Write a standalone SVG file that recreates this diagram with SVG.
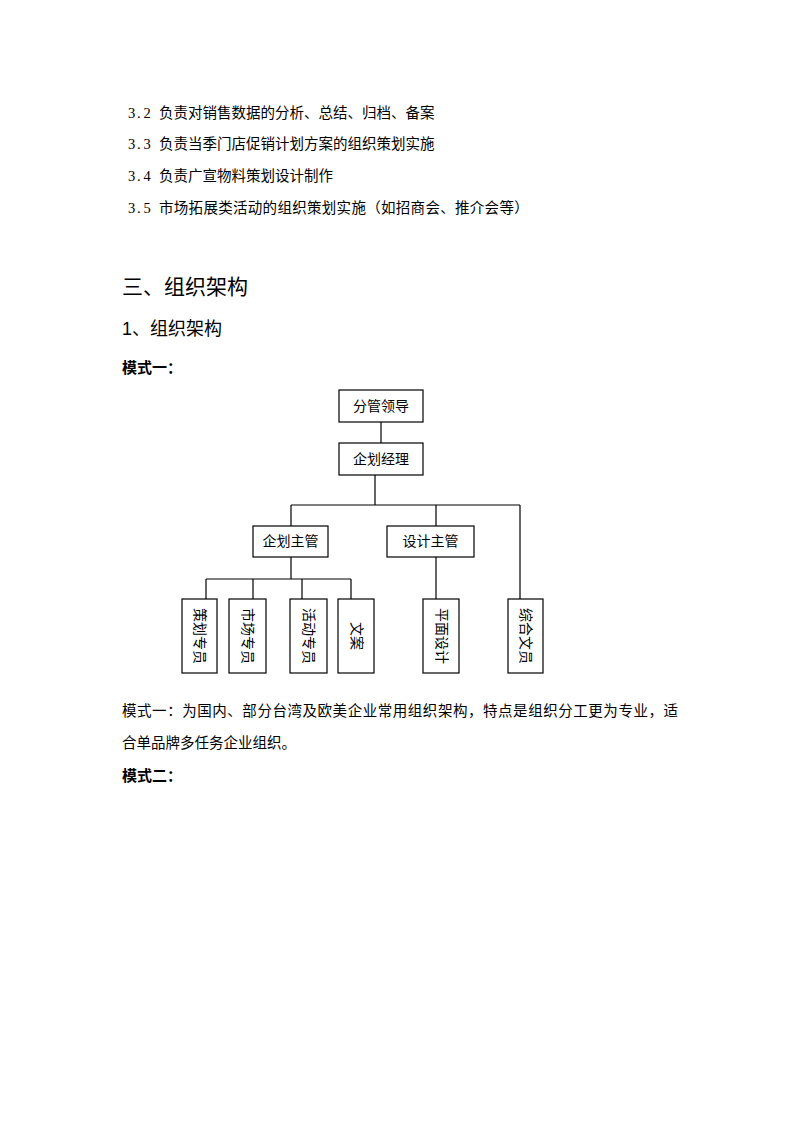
<svg xmlns="http://www.w3.org/2000/svg" width="800" height="1132" viewBox="0 0 800 1132">
<style>
.t{font-family:"Liberation Serif","Noto Sans CJK SC",serif;font-size:14.5px;fill:#000}
.h{font-family:"Liberation Sans","Noto Sans CJK SC",sans-serif;fill:#000}
.b{font-family:"Liberation Sans","Noto Sans CJK SC",sans-serif;font-size:15px;font-weight:bold;fill:#000}
.box{fill:#fff;stroke:#000;stroke-width:1.2}
.lbl{font-family:"Liberation Serif","Noto Sans CJK SC",serif;font-size:14px;fill:#000;text-anchor:middle;dominant-baseline:central}
.c{fill:none;stroke:#000;stroke-width:1.2}
</style>
<rect width="800" height="1132" fill="#fff"/>
<text class="t" y="118"><tspan x="128 137 143.5">3.2</tspan><tspan x="159">负责对销售数据的分析、总结、归档、备案</tspan></text>
<text class="t" y="149"><tspan x="128 137 143.5">3.3</tspan><tspan x="159">负责当季门店促销计划方案的组织策划实施</tspan></text>
<text class="t" y="181"><tspan x="128 137 143.5">3.4</tspan><tspan x="159">负责广宣物料策划设计制作</tspan></text>
<text class="t" y="213"><tspan x="128 137 143.5">3.5</tspan><tspan x="159" letter-spacing="0.3">市场拓展类活动的组织策划实施（如招商会、推介会等）</tspan></text>
<text class="h" x="122" y="294" font-size="21">三、组织架构</text>
<text class="h" x="122" y="335" font-size="18">1、组织架构</text>
<text class="b" x="122" y="373">模式一：</text>
<g id="connectors">
<path class="c" d="M381 422V443"/>
<path class="c" d="M375 475V505M291 505H520M291 505V526M436 505V526M520 505V599"/>
<path class="c" d="M291 557V579M206 579H351M206 579V599M253 579V599M302 579V599M351 579V599"/>
<path class="c" d="M436 557V599"/>
</g>
<g id="n1"><rect class="box" x="339" y="390" width="84" height="32"/><text class="lbl" x="381" y="406">分管领导</text></g>
<g id="n2"><rect class="box" x="339" y="443" width="84" height="32"/><text class="lbl" x="381" y="459">企划经理</text></g>
<g id="n3"><rect class="box" x="253" y="526" width="75" height="31"/><text class="lbl" x="290.5" y="541.5">企划主管</text></g>
<g id="n4"><rect class="box" x="387" y="526" width="87" height="31"/><text class="lbl" x="430.5" y="541.5">设计主管</text></g>
<g id="n5"><rect class="box" x="182" y="599" width="35" height="74"/><text class="lbl" transform="translate(199.5 636) rotate(90)">策划专员</text></g>
<g id="n6"><rect class="box" x="229" y="599" width="37" height="74"/><text class="lbl" transform="translate(247.5 636) rotate(90)">市场专员</text></g>
<g id="n7"><rect class="box" x="290" y="599" width="37" height="74"/><text class="lbl" transform="translate(308.5 636) rotate(90)">活动专员</text></g>
<g id="n8"><rect class="box" x="338" y="599" width="36" height="74"/><text class="lbl" transform="translate(356 636) rotate(90)">文案</text></g>
<g id="n9"><rect class="box" x="423" y="599" width="36" height="74"/><text class="lbl" transform="translate(441 636) rotate(90)">平面设计</text></g>
<g id="n10"><rect class="box" x="508" y="599" width="35" height="74"/><text class="lbl" transform="translate(525.5 636) rotate(90)">综合文员</text></g>
<text class="t" x="122" y="716" textLength="556" lengthAdjust="spacing">模式一：为国内、部分台湾及欧美企业常用组织架构，特点是组织分工更为专业，适</text>
<text class="t" x="122" y="748">合单品牌多任务企业组织。</text>
<text class="b" x="122" y="781">模式二：</text>
</svg>
